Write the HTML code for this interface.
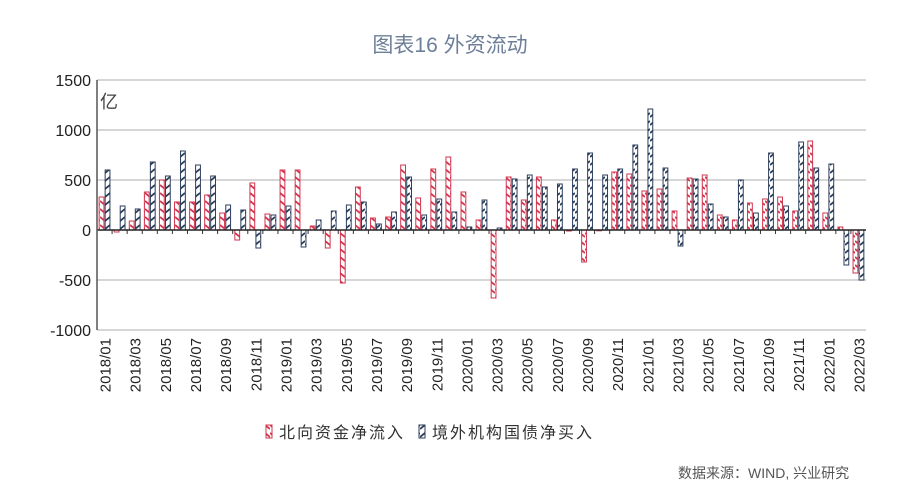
<!DOCTYPE html>
<html><head><meta charset="utf-8"><style>
body{margin:0;width:900px;height:499px;background:#fff;overflow:hidden;font-family:"Liberation Sans","Noto Sans CJK SC",sans-serif}
</style></head><body>
<svg id="c" width="900" height="499" xmlns="http://www.w3.org/2000/svg">
<defs>
<pattern id="pr" width="5" height="8" patternUnits="userSpaceOnUse"><rect width="5" height="8" fill="#fff"/><path d="M0,1 L5,5" stroke="#d2364f" stroke-width="1.8"/></pattern>
<pattern id="pb" width="5" height="8" patternUnits="userSpaceOnUse"><rect width="5" height="8" fill="#fff"/><path d="M0,5 L5,1" stroke="#2c3e5c" stroke-width="1.8"/></pattern>
</defs>
<text x="450" y="52" text-anchor="middle" font-size="21" fill="#6d7f98">图表16  外资流动</text>
<g id="grid"></g><g id="bars"></g><g id="axes"></g>
<text x="100" y="108" font-size="18" fill="#444">亿</text>
<g>
<rect x="266" y="425" width="6" height="13" fill="url(#pr)" stroke="#d2364f"/>
<text x="279" y="438" font-size="16" letter-spacing="2" fill="#333">北向资金净流入</text>
<rect x="419" y="425" width="6" height="13" fill="url(#pb)" stroke="#2c3e5c"/>
<text x="432" y="438" font-size="16" letter-spacing="2" fill="#333">境外机构国债净买入</text>
</g>
<text x="678" y="478" font-size="14" fill="#555">数据来源：WIND, 兴业研究</text>
</svg>
<script>
const months=[];for(let y=2018;y<=2022;y++)for(let m=1;m<=12;m++){if(y===2022&&m>3)break;months.push(y+'/'+String(m).padStart(2,'0'));}
const north=[330,-20,90,380,500,280,280,350,170,-100,470,160,600,600,40,-180,-530,430,120,130,650,320,610,730,380,100,-680,530,300,530,100,-10,-320,0,580,560,390,410,190,520,550,150,100,270,310,330,190,890,170,30,-430];
const foreign=[600,240,210,680,540,790,650,540,250,200,-180,150,240,-170,100,190,250,280,60,180,530,150,310,180,30,300,20,510,550,430,460,610,770,550,610,850,1210,620,-160,510,260,130,500,170,770,240,880,620,660,-350,-500];
const yTicks=[-1000,-500,0,500,1000,1500];
const NS='http://www.w3.org/2000/svg';
const X0=97,X1=866,Y0=230,K=0.1;
const step=(X1-X0)/months.length;
const yS=v=>Y0-v*K;
const xS=i=>X0+i*step;
function mk(t,a,p){const e=document.createElementNS(NS,t);for(const k in a)e.setAttribute(k,a[k]);p.appendChild(e);return e;}
const g=document.getElementById('grid'),b=document.getElementById('bars'),ax=document.getElementById('axes');
yTicks.forEach(v=>{
 if(v!==0){const l=mk('line',{x1:X0,x2:X1,y1:yS(v),y2:yS(v),stroke:'#c8c8c8','stroke-width':1.5},g);
 
 }
 const t=mk('text',{x:91,y:yS(v)+6,'text-anchor':'end','font-size':16,fill:'#222'},ax);t.textContent=v;
 
 
});
const bw=4.8;
months.forEach((m,i)=>{
 const c=xS(i)+step/2;
 [[north[i],'#d2364f','url(#pr)',c-bw-0.6],[foreign[i],'#2c3e5c','url(#pb)',c+0.6]].forEach((s,j)=>{
  const v=s[0],y=Math.min(yS(v),Y0),h=Math.max(Math.abs(v*K),0.8);
  const r=mk('rect',{x:s[3],y:y,width:bw,height:h,fill:s[2],stroke:s[1],'stroke-width':1},b);
  
  
 });
 if(i%2===0){
  const t=mk('text',{transform:`translate(${c+6},${338}) rotate(-90)`,'text-anchor':'end','font-size':15,fill:'#222'},ax);t.textContent=m;
  
  
 }
 mk('line',{x1:xS(i),x2:xS(i),y1:Y0,y2:Y0+4,stroke:'#333'},ax);
});
const za=mk('line',{x1:X0,x2:X1,y1:Y0,y2:Y0,stroke:'#222','stroke-width':1.5},ax);


const ya=mk('line',{x1:X0,x2:X0,y1:yS(1500),y2:yS(-1000),stroke:'#555','stroke-width':1.5},ax);


</script>
</body></html>
